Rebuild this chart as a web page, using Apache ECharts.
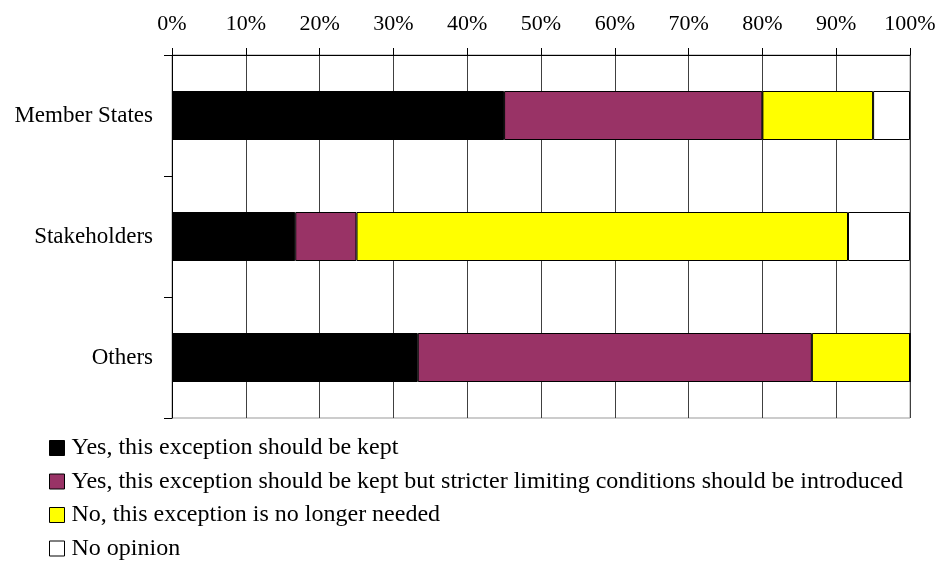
<!DOCTYPE html>
<html>
<head>
<meta charset="utf-8">
<script src="https://cdn.jsdelivr.net/npm/echarts@6/dist/echarts.min.js"></script>
<style>html,body{margin:0;padding:0;background:#fff;}#c{width:940px;height:562px;}</style>
</head>
<body>
<div id="c"></div>
<script>
var categories = ['Member States', 'Stakeholders', 'Others'];
var seriesNames = [
  'Yes, this exception should be kept',
  'Yes, this exception should be kept but stricter limiting conditions should be introduced',
  'No, this exception is no longer needed',
  'No opinion'
];
var yesKept = [45.0, 16.7, 33.3];
var yesStricter = [35.0, 8.3, 53.4];
var noLonger = [15.0, 66.6, 13.3];
var noOpinion = [5.0, 8.4, 0];
var seriesColors = ['#000000', '#993366', '#ffff00', '#ffffff'];
var xTicks = [0, 10, 20, 30, 40, 50, 60, 70, 80, 90, 100];

var font = 'Liberation Serif, Times New Roman, serif';
var values = [yesKept, yesStricter, noLonger, noOpinion];
var series = values.map(function (v, i) {
  return {
    name: seriesNames[i],
    type: 'bar',
    stack: 'total',
    barWidth: 49,
    data: v,
    itemStyle: { color: seriesColors[i], borderColor: '#000', borderWidth: 1 },
    emphasis: { disabled: true }
  };
});

var chart = echarts.init(document.getElementById('c'), null, { renderer: 'canvas' });
chart.setOption({
  animation: false,
  backgroundColor: '#fff',
  textStyle: { fontFamily: font },
  grid: { left: 172, right: 30, top: 55, bottom: 144, show: true, borderColor: '#999', borderWidth: 1, backgroundColor: 'transparent' },
  xAxis: {
    type: 'value', position: 'top', min: xTicks[0], max: xTicks[xTicks.length - 1], interval: 10,
    axisLine: { show: true, lineStyle: { color: '#000', width: 1 } },
    axisTick: { show: true, length: 7, lineStyle: { color: '#000' } },
    axisLabel: { formatter: '{value}%', color: '#000', fontSize: 22, fontFamily: font, margin: 20 },
    splitLine: { show: true, lineStyle: { color: '#404040', width: 1 } }
  },
  yAxis: {
    type: 'category', data: categories, inverse: true,
    axisLine: { show: true, lineStyle: { color: '#000', width: 1 } },
    axisTick: { show: true, length: 8, lineStyle: { color: '#000' } },
    axisLabel: { color: '#000', fontSize: 23, fontFamily: font, margin: 19 },
    splitLine: { show: false }
  },
  legend: {
    orient: 'vertical', left: 49, top: 436, padding: 0,
    itemWidth: 15, itemHeight: 15, itemGap: 9.5,
    icon: 'rect',
    selectedMode: false,
    textStyle: { color: '#000', fontSize: 24, fontFamily: font, lineHeight: 24, padding: [0, 0, 0, 2] },
    data: seriesNames.map(function (n, i) {
      return { name: n, itemStyle: { color: seriesColors[i], borderColor: '#000', borderWidth: 1 } };
    })
  },
  series: series
});
</script>
</body>
</html>
